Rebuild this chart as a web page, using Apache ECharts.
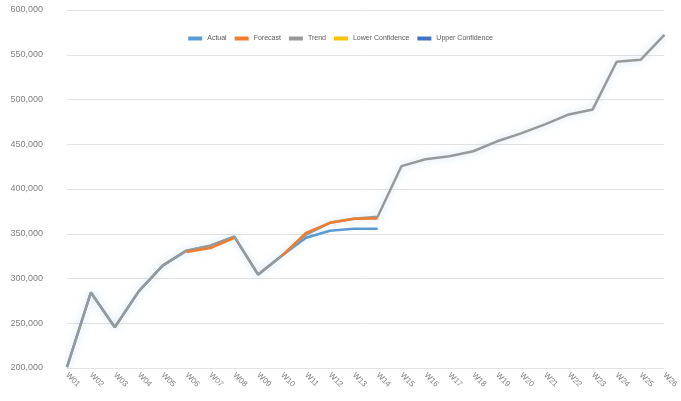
<!DOCTYPE html>
<html>
<head>
<meta charset="utf-8">
<script src="https://cdn.jsdelivr.net/npm/echarts@6/dist/echarts.min.js"></script>
<style>
  html, body { margin: 0; padding: 0; background: #fff; }
  #chart { width: 681px; height: 401px; }
</style>
</head>
<body>
<div id="chart"></div>
<script>
// Period labels along the category axis
const periods = ['W01','W02','W03','W04','W05','W06','W07','W08','W09','W10','W11','W12','W13',
                 'W14','W15','W16','W17','W18','W19','W20','W21','W22','W23','W24','W25','W26'];

// Observed values for the first half of the range
const actual = [201000, 284400, 245600, 285600, 314400, 331100, 336700, 346700, 304400, 325600,
                345600, 353300, 355600, 355600];

// Forecast values (two stretches)
const forecast = [null, null, null, null, null, 329500, 334000, 345500, null, 325600,
                  351000, 362200, 366700, 367000];

// Full trend line over all periods
const trend = [201000, 284400, 245600, 285600, 314400, 331100, 336700, 346700, 304400, 325600,
               348900, 362200, 366700, 368900, 425600, 433300, 436700, 442200, 453300, 462200,
               472200, 483300, 488900, 542200, 544400, 572200];

// Confidence bounds (legend entries only)
const lowerBound = [];
const upperBound = [];

// Value axis ticks
const yMin = 200000;
const yMax = 600000;
const yStep = 50000;

const chart = echarts.init(document.getElementById('chart'));

const lineSeries = (name, data, color, z) => ({
  name, type: 'line', data, z,
  symbol: 'none', smooth: false, connectNulls: false,
  lineStyle: { color, width: 2.5 },
  itemStyle: { color }
});

chart.setOption({
  animation: false,
  textStyle: { fontFamily: 'Liberation Sans, Arial, sans-serif' },
  legend: {
    top: 30, left: 'center',
    itemWidth: 14, itemHeight: 4, itemGap: 8,
    icon: 'rect',
    textStyle: { fontSize: 7, color: '#595959' },
    data: ['Actual', 'Forecast', 'Trend', 'Lower Confidence', 'Upper Confidence']
  },
  grid: { left: 67, right: 12, top: 10, bottom: 33 },
  xAxis: {
    type: 'category',
    data: periods,
    boundaryGap: false,
    axisLine: { show: false },
    axisTick: { show: false },
    axisLabel: { rotate: -45, fontSize: 8, color: '#7f7f7f', margin: 6, interval: 0 }
  },
  yAxis: {
    type: 'value',
    min: yMin, max: yMax, interval: yStep,
    axisLine: { show: false },
    axisTick: { show: false },
    splitLine: { lineStyle: { color: '#e3e3e3', width: 1 } },
    axisLabel: { fontSize: 9, color: '#7f7f7f', margin: 24 }
  },
  series: [
    lineSeries('Actual', actual, '#5B9BD5', 2),
    Object.assign(lineSeries('Trend', trend, '#999999', 3), {
      lineStyle: { color: '#999999', width: 2.5, shadowColor: 'rgba(91,155,213,0.35)', shadowBlur: 8 }
    }),
    lineSeries('Forecast', forecast, '#ED7D31', 4),
    lineSeries('Lower Confidence', lowerBound, '#FFC000', 1),
    lineSeries('Upper Confidence', upperBound, '#4472C4', 1)
  ]
});
</script>
</body>
</html>
